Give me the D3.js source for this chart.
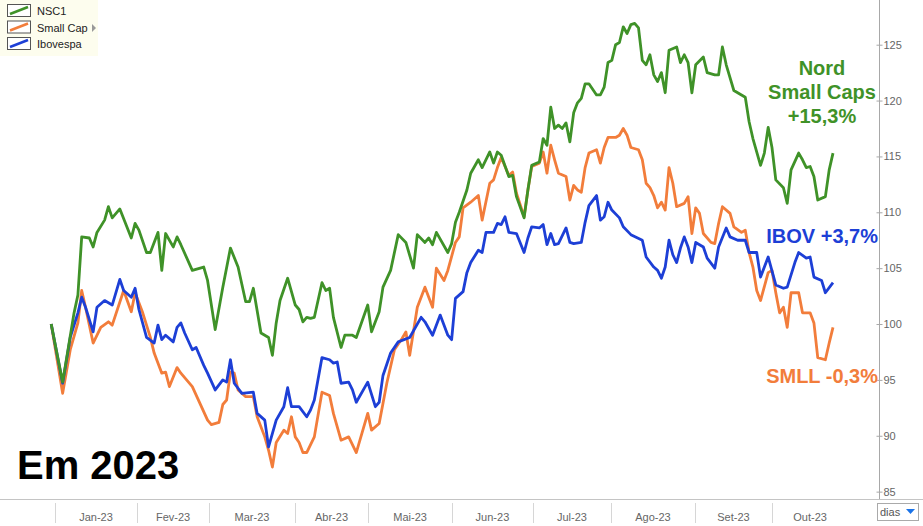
<!DOCTYPE html>
<html><head><meta charset="utf-8">
<script src="https://cdn.jsdelivr.net/npm/d3@7"></script>
<style>html,body{margin:0;padding:0;background:#fff;}svg{display:block;font-family:Arial,"Liberation Sans",sans-serif;}</style>
</head><body><svg id="c" width="923" height="526"></svg>
<script>
// Trading-day index (0 = base date, Dec-22) and value (base 100)
const nsc1 = [[0,100],[3,94.8],[6,101.0],[7,102.6],[8,107.8],[10,107.7],[11,106.9],[12,108.2],[14,109.3],[15,110.5],[16,109.5],[18,110.3],[21,107.7],[22,109.0],[23,108.4],[25,106.4],[26,106.4],[28,108.2],[29,104.8],[30,108.1],[32,106.9],[33,107.8],[34,107.1],[37,104.8],[40,105.1],[41,103.9],[43,99.5],[45,103.3],[47,106.8],[49,105.1],[51,102.0],[52,102.0],[53,103.2],[55,99.2],[57,98.8],[58,97.2],[59,100.1],[60,102.1],[62,104.1],[64,101.7],[65,101.3],[66,100.2],[67,100.6],[68,100.5],[69,100.6],[71,103.7],[72,103.0],[73,103.2],[74,100.6],[76,97.9],[77,99.0],[79,99.0],[80,98.8],[83,101.7],[84,99.3],[86,101.1],[87,103.3],[89,104.8],[91,108.0],[93,107.3],[95,105.0],[96,108.0],[98,107.3],[99,107.7],[100,107.1],[101,108.2],[104,106.4],[105,107.2],[106,109.1],[107,110.0],[109,112.0],[110,113.5],[112,114.7],[113,114.0],[115,115.4],[116,114.4],[117,115.4],[118,115.1],[120,113.2],[121,113.3],[122,111.4],[124,109.5],[125,112.0],[126,114.2],[128,114.5],[129,116.6],[130,116.0],[131,119.4],[132,117.5],[133,117.8],[134,117.5],[135,118.0],[136,116.3],[137,118.9],[138,119.8],[139,120.2],[140,121.5],[141,121.5],[143,120.5],[144,120.5],[145,121.2],[146,123.4],[147,123.6],[148,125.0],[149,125.2],[150,126.6],[151,126.0],[152,126.8],[153,126.9],[154,126.5],[155,123.6],[156,123.2],[157,124.1],[158,122.3],[159,121.7],[160,122.5],[161,120.7],[162,124.5],[164,124.8],[165,123.4],[166,124.1],[167,123.4],[168,120.7],[169,123.2],[171,123.9],[172,122.5],[174,122.3],[175,122.3],[176,124.8],[177,123.2],[179,120.9],[180,120.7],[181,120.5],[182,120.3],[183,118.1],[184,116.6],[186,114.2],[187,115.3],[188,117.6],[189,115.8],[190,112.9],[192,112.2],[193,110.8],[194,113.8],[196,115.3],[197,114.7],[198,114.0],[199,114.1],[200,113.2],[201,111.1],[203,111.4],[204,113.8],[205,115.3]];
const smallCap = [[0,100],[3,93.8],[5,97.7],[7,100.1],[8,103.0],[9,101.5],[11,98.3],[13,99.7],[15,100.2],[16,99.9],[19,103.0],[21,101.1],[22,102.8],[24,101.0],[26,98.8],[27,97.4],[29,95.6],[30,95.7],[31,94.4],[33,96.1],[34,95.6],[37,94.4],[39,92.9],[41,91.4],[42,91.0],[44,91.2],[45,92.8],[46,93.2],[47,95.7],[48,95.6],[49,94.1],[51,93.5],[53,93.5],[54,91.7],[56,89.9],[57,88.7],[58,87.2],[59,89.4],[61,90.5],[62,90.2],[63,91.7],[64,89.9],[65,89.4],[66,88.5],[67,88.5],[69,89.9],[71,93.9],[73,93.6],[74,92.0],[76,89.6],[78,89.9],[80,88.5],[83,92.0],[84,90.5],[86,91.1],[88,94.7],[90,97.7],[92,98.7],[93,99.3],[94,97.2],[96,101.5],[98,103.3],[100,101.5],[101,105.0],[103,103.9],[104,104.8],[106,107.3],[107,107.8],[108,110.4],[110,110.9],[112,111.5],[113,109.3],[115,112.6],[116,112.9],[117,114.0],[118,114.9],[120,113.3],[121,113.6],[122,111.7],[124,109.6],[125,112.0],[126,114.1],[128,114.4],[129,115.4],[130,113.5],[131,116.0],[132,114.7],[133,113.5],[135,113.2],[136,111.1],[137,112.4],[138,112.0],[139,111.8],[140,114.0],[141,115.3],[143,115.6],[144,114.4],[145,115.8],[146,116.7],[148,116.7],[149,116.9],[150,117.5],[151,116.9],[152,115.8],[154,115.6],[155,114.7],[156,112.6],[157,112.2],[158,111.5],[159,110.4],[160,110.9],[161,110.2],[162,114.0],[163,112.6],[164,110.5],[166,110.8],[167,111.4],[168,108.1],[169,110.4],[170,109.9],[171,108.1],[173,107.3],[174,107.2],[175,109.0],[176,110.5],[178,109.9],[179,108.7],[181,108.2],[182,108.4],[183,106.4],[184,105.1],[185,103.0],[186,102.1],[188,104.6],[189,104.8],[190,102.8],[191,101.0],[192,101.5],[193,99.7],[194,102.8],[196,102.8],[197,101.0],[199,101.0],[200,100.1],[201,97.0],[203,96.8],[204,98.3],[205,99.7]];
const ibovespa = [[0,100],[3,94.7],[5,98.8],[7,101.0],[8,102.4],[9,101.5],[11,99.3],[12,101.5],[14,102.1],[16,101.7],[18,104.0],[19,103.0],[21,102.4],[22,103.2],[23,101.3],[25,98.8],[27,98.3],[28,99.9],[29,98.6],[30,99.0],[32,98.4],[33,99.7],[34,100.1],[35,99.2],[37,97.7],[38,97.9],[40,96.3],[41,95.6],[43,94.1],[45,95.0],[46,94.8],[47,96.8],[48,94.7],[50,93.8],[53,93.9],[54,92.0],[56,91.4],[57,89.0],[59,91.4],[61,92.6],[62,94.3],[63,92.6],[65,92.6],[67,91.7],[68,92.3],[69,93.2],[71,97.0],[73,96.8],[74,96.5],[75,96.6],[76,94.7],[78,94.8],[79,94.1],[80,93.0],[83,94.8],[85,92.6],[86,93.0],[87,95.4],[89,97.4],[91,98.4],[94,98.8],[97,100.6],[98,100.2],[100,99.0],[102,100.8],[104,99.0],[105,98.6],[106,102.3],[108,102.9],[109,104.6],[110,105.5],[112,106.6],[113,106.4],[114,108.2],[116,108.2],[117,109.0],[118,108.9],[119,109.6],[120,108.2],[122,108.1],[124,106.4],[125,107.7],[126,108.7],[128,108.6],[129,108.9],[130,107.1],[131,108.1],[132,107.1],[133,107.2],[135,108.6],[136,107.3],[137,107.2],[139,107.3],[140,109.1],[141,110.6],[143,111.5],[144,109.3],[145,109.6],[146,110.9],[147,110.2],[149,109.5],[150,108.7],[152,108.0],[155,107.5],[156,106.0],[158,105.1],[159,104.8],[160,104.1],[161,105.1],[162,107.5],[163,106.2],[164,105.5],[165,106.8],[166,107.8],[167,106.9],[168,105.5],[169,107.3],[171,106.9],[172,105.9],[174,105.0],[175,106.9],[177,108.6],[178,107.8],[180,107.5],[182,107.5],[183,106.4],[185,106.4],[186,104.2],[188,106.0],[190,103.5],[192,103.2],[193,103.3],[195,105.5],[196,106.4],[198,105.9],[199,106.0],[200,104.2],[202,103.9],[203,102.8],[205,103.7]];

const seriesNames = ["NSC1", "Small Cap", "Ibovespa"];
const seriesColors = ["#3f9228", "#f27d3b", "#1d3fd6"];
const monthLabels = ["Jan-23","Fev-23","Mar-23","Abr-23","Mai-23","Jun-23","Jul-23","Ago-23","Set-23","Out-23"];
const monthStarts = [1, 22.5, 41.4, 63.9, 83.1, 105.1, 126.3, 146.8, 168.8, 189, 209];
const yTicks = [85, 90, 95, 100, 105, 110, 115, 120, 125];
const annotations = [
  {lines:["Nord","Small Caps","+15,3%"], color:"#3f9228"},
  {lines:["IBOV +3,7%"], color:"#1d3fd6"},
  {lines:["SMLL -0,3%"], color:"#f27d3b"}
];

const svg = d3.select("#c");
const x = d3.scaleLinear().domain([0, 205]).range([51.2, 833]);
const y = d3.scaleLinear().domain([84.34, 129]).range([499, 0]);

// bottom axis line
svg.append("line").attr("x1",0).attr("x2",923).attr("y1",499.5).attr("y2",499.5).attr("stroke","#c4c4c4");
// right axis
const yAxis = d3.axisRight(y).tickValues(yTicks).tickSize(3).tickPadding(1);
const ya = svg.append("g").attr("transform","translate(879.5,0)").call(yAxis);
ya.select(".domain").attr("d","M0,0V499").attr("stroke","#a8a8a8");
ya.selectAll(".tick line").attr("stroke","#a8a8a8").attr("x1",-3);
ya.selectAll(".tick text").attr("fill","#666").style("font-size","11px").style("font-family","Arial, 'Liberation Sans', sans-serif");

// month separators and labels
const mg = svg.append("g");
monthStarts.slice(0,10).forEach((m,i)=>{
  mg.append("line").attr("x1",Math.round(x(m))+0.5).attr("x2",Math.round(x(m))+0.5).attr("y1",503).attr("y2",523).attr("stroke","#d6d6d6");
  mg.append("text").attr("x",(x(m)+x(monthStarts[i+1]))/2).attr("y",521).attr("text-anchor","middle")
    .attr("fill","#666").style("font-size","11px").text(monthLabels[i]);
});

// lines
const line = d3.line().x(d=>x(d[0])).y(d=>y(d[1])).curve(d3.curveLinear);
[smallCap, ibovespa, nsc1].forEach((s,k)=>{
  const idx = [1,2,0][k];
  svg.append("path").datum(s).attr("d",line).attr("fill","none")
    .attr("stroke",seriesColors[idx]).attr("stroke-width",2.8).attr("stroke-linejoin","round");
});

// legend
const lg = svg.append("g");
lg.append("rect").attr("x",0).attr("y",0).attr("width",98).attr("height",56).attr("fill","#fdfdee");
seriesNames.forEach((n,i)=>{
  const ty = 4 + i*16.5;
  const g = lg.append("g").attr("transform",`translate(7,${ty})`);
  g.append("rect").attr("x",0.5).attr("y",0.5).attr("width",23).attr("height",12).attr("fill","#fff").attr("stroke","#555");
  g.append("line").attr("x1",3).attr("y1",10).attr("x2",21).attr("y2",3).attr("stroke",seriesColors[i]).attr("stroke-width",2.5);
  lg.append("text").attr("x",37).attr("y",ty+11).attr("fill","#222").style("font-size","11px").text(n);
});
lg.append("path").attr("d","M92,24 L96,28 L92,32 Z").attr("fill","#999");

// annotations
const a0 = annotations[0];
a0.lines.forEach((t,i)=>{
  svg.append("text").attr("x",822).attr("y",75+i*24).attr("text-anchor","middle").attr("fill",a0.color)
    .style("font-size","20px").style("font-weight","bold").text(t);
});
svg.append("text").attr("x",878).attr("y",243).attr("text-anchor","end").attr("fill",annotations[1].color)
  .style("font-size","20px").style("font-weight","bold").text(annotations[1].lines[0]);
svg.append("text").attr("x",878).attr("y",383).attr("text-anchor","end").attr("fill",annotations[2].color)
  .style("font-size","20px").style("font-weight","bold").text(annotations[2].lines[0]);
svg.append("text").attr("x",17).attr("y",479).attr("fill","#000")
  .style("font-size","40px").style("font-weight","bold").text("Em 2023");

// "dias" selector
const dg = svg.append("g");
dg.append("rect").attr("x",877.5).attr("y",503.5).attr("width",41).attr("height",17).attr("fill","#fff").attr("stroke","#aaa");
dg.append("text").attr("x",880).attr("y",516).attr("fill","#555").style("font-size","11px").text("dias");
dg.append("path").attr("d","M906,509 L915,509 L910.5,514 Z").attr("fill","#1a73e8");
</script></body></html>
